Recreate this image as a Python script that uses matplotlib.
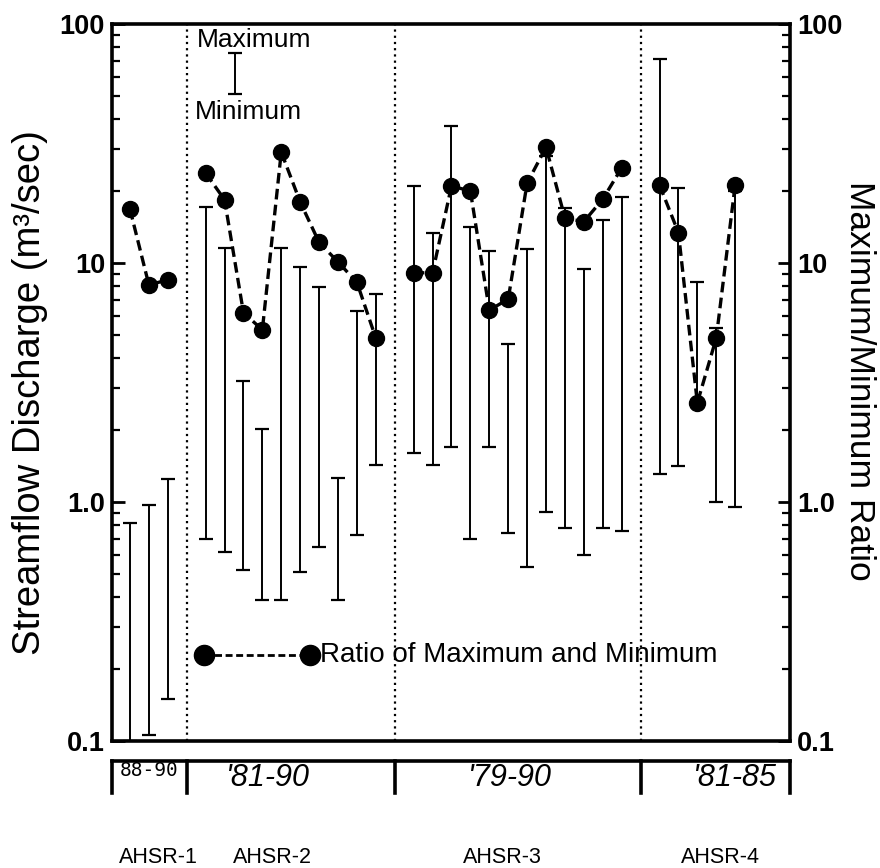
import numpy as np
import matplotlib
matplotlib.use("Agg")
import matplotlib.pyplot as plt
import matplotlib.transforms as mtransforms
from matplotlib.ticker import FixedLocator, FixedFormatter, LogLocator, NullFormatter

# ---------------- data ----------------
stations = ["AHSR-1", "AHSR-2", "AHSR-3", "AHSR-4"]
periods = ["88-90", "'81-90", "'79-90", "'81-85"]

max_1 = [0.82, 0.97, 1.25]
min_1 = [0.10, 0.106, 0.15]
ratio_1 = [16.8, 8.1, 8.5]

max_2 = [17.1, 11.6, 3.2, 2.02, 11.6, 9.6, 7.9, 1.26, 6.3, 7.4]
min_2 = [0.70, 0.62, 0.52, 0.39, 0.39, 0.51, 0.65, 0.39, 0.73, 1.43]
ratio_2 = [23.8, 18.4, 6.2, 5.25, 29.1, 18.0, 12.2, 10.1, 8.3, 4.85]

max_3 = [21.0, 13.4, 37.4, 14.2, 11.2, 4.58, 11.4, 28.0, 17.0, 9.4, 15.1, 18.9]
min_3 = [1.60, 1.43, 1.70, 0.70, 1.70, 0.74, 0.535, 0.91, 0.78, 0.60, 0.78, 0.757]
ratio_3 = [9.1, 9.1, 21.0, 20.0, 6.35, 7.06, 21.6, 30.5, 15.4, 14.9, 18.5, 25.0]

max_4 = [71.5, 20.6, 8.3, 5.35, 20.0]
min_4 = [1.31, 1.42, 2.65, 1.0, 0.95]
ratio_4 = [21.2, 13.4, 2.6, 4.85, 21.2]

groups = [(max_1, min_1, ratio_1), (max_2, min_2, ratio_2),
          (max_3, min_3, ratio_3), (max_4, min_4, ratio_4)]

y_ticks = [0.1, 1, 10, 100]
y_ticklabels = ["0.1", "1.0", "10", "100"]

# ---------------- figure ----------------
plt.rcParams['font.family'] = ['Liberation Sans', 'DejaVu Sans']

W, H = 880, 868
fig = plt.figure(figsize=(W / 100, H / 100), dpi=100)
ax = fig.add_axes([112 / W, 1 - 741 / H, 678 / W, 717 / H])
ax.set_yscale('log')
ax.set_ylim(0.1, 100)
ax.set_xlim(-0.95, 34.9)

pos = 0
seps = []
for i, (mx, mn, rt) in enumerate(groups):
    n = len(mx)
    x = np.arange(pos, pos + n)
    mx = np.array(mx)
    mn = np.array(mn)
    mid = np.sqrt(mx * mn)
    ax.errorbar(x, mid, yerr=[mid - mn, mx - mid], fmt='none', ecolor='black',
                elinewidth=1.4, capsize=4.7, capthick=1.6, zorder=2)
    ax.plot(x, rt, color='black', ls=(0, (3.2, 1.6)), lw=2.4, marker='o', ms=11.5,
            mfc='black', mec='black', zorder=3)
    pos += n
    if i < len(groups) - 1:
        seps.append(pos)
        pos += 1

for s in seps:
    ax.axvline(s, color='black', ls=(0, (1, 1.8)), lw=1.6, zorder=1)

# spines and ticks
for sp in ax.spines.values():
    sp.set_linewidth(2.6)
ax.set_xticks([])
ax.yaxis.set_major_locator(FixedLocator(y_ticks))
ax.yaxis.set_major_formatter(FixedFormatter(y_ticklabels))
ax.yaxis.set_minor_locator(LogLocator(base=10, subs=np.arange(2, 10)))
ax.yaxis.set_minor_formatter(NullFormatter())
ax.tick_params(axis='y', which='both', direction='in', left=True, right=True,
               labelleft=True, labelright=True)
ax.tick_params(axis='y', which='major', length=9, width=2.0, labelsize=19.5, pad=5)
ax.tick_params(axis='y', which='minor', length=6, width=1.6)
for lab in ax.get_yticklabels():
    lab.set_fontweight('bold')

# axis titles
fig.text(30 / W, 1 - 393 / H, "Streamflow Discharge (m³/sec)", rotation=90,
         ha='center', va='center', fontsize=27.5)
fig.text(859 / W, 1 - 381 / H, "Maximum/Minimum Ratio", rotation=270,
         ha='center', va='center', fontsize=25.5)

# legend: max/min bar
ta = ax.transAxes
ax.plot([0.181, 0.181], [0.902, 0.96], color='black', lw=1.4, transform=ta, clip_on=False)
ax.plot([0.181, 0.181], [0.902, 0.96], color='black', ls='none', marker='_', ms=9.4,
        mew=1.6, transform=ta, clip_on=False)
ax.text(0.125, 0.978, "Maximum", transform=ta, ha='left', va='center', fontsize=19)
ax.text(0.122, 0.877, "Minimum", transform=ta, ha='left', va='center', fontsize=19)

# legend: ratio
ax.plot([0.136, 0.292], [0.12, 0.12], color='black', ls=(0, (2.5, 1.3)), lw=2.0,
        marker='o', ms=14.5, mfc='black', mec='black', transform=ta, clip_on=False)
ax.text(0.307, 0.12, "Ratio of Maximum and Minimum", transform=ta, ha='left',
        va='center', fontsize=20)

# bottom period boxes
bt = mtransforms.blended_transform_factory(ax.transData, ax.transAxes)
x0, x1 = ax.get_xlim()
y_top = -0.028
y_bot = -0.072
ax.plot([x0, x1], [y_top, y_top], color='black', lw=2.6, transform=bt, clip_on=False)
for xv in [x0] + seps + [x1]:
    ax.plot([xv, xv], [y_top, y_bot], color='black', lw=2.6, transform=bt, clip_on=False)

period_x = [1.0, 7.3, 20.1, 32.0]
for k, (px, lab) in enumerate(zip(period_x, periods)):
    if k == 0:
        ax.text(px, -0.041, lab, transform=bt, ha='center', va='center',
                fontsize=14, family='DejaVu Sans Mono')
    else:
        ax.text(px, -0.051, lab, transform=bt, ha='center', va='center',
                fontsize=22, style='italic')

station_x = [1.5, 7.55, 19.7, 31.2]
for sx, lab in zip(station_x, stations):
    ax.text(sx, -0.162, lab, transform=bt, ha='center', va='center', fontsize=15.5)

fig.savefig("out.png", dpi=100)
